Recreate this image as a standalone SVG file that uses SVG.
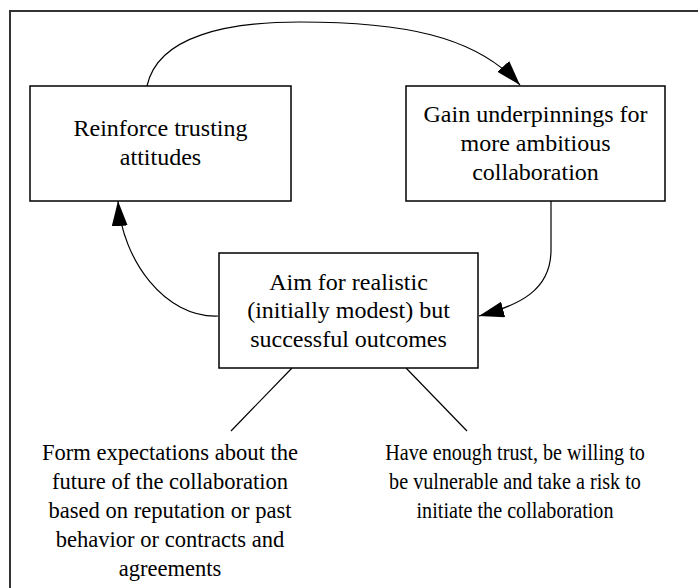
<svg xmlns="http://www.w3.org/2000/svg" width="698" height="588" viewBox="0 0 698 588">
  <style>
    .box { fill: #ffffff; stroke: #000000; stroke-width: 1.5; }
    .label { font-family: 'Liberation Serif', 'DejaVu Serif', serif; font-size: 24px; fill: #000000; text-anchor: middle; }
    .note { font-family: 'Liberation Serif', 'DejaVu Serif', serif; font-size: 24px; fill: #000000; text-anchor: middle; }
    .link { fill: none; stroke: #000000; stroke-width: 1.2; }
    .frame { fill: none; stroke: #333333; stroke-width: 2; }
  </style>
  <defs>
    <marker id="arrow" markerUnits="userSpaceOnUse" markerWidth="26" markerHeight="18" refX="25" refY="8" orient="auto">
      <path d="M0,0 L25,8 L0,16 Z" fill="#000000"/>
    </marker>
  </defs>

  <rect width="698" height="588" fill="#ffffff"/>
  <!-- outer frame, open to the right and bottom -->
  <path class="frame" d="M10,600 V11 H700"/>

  <g id="connectors">
    <path class="link" d="M147,86 C158,35 230,22 300,22 C400,22 475,35 520,85" marker-end="url(#arrow)"/>
    <path class="link" d="M551,201 L551,250 C551,290 520,305 479,316" marker-end="url(#arrow)"/>
    <path class="link" d="M218,316 C165,318 122,260 118,201" marker-end="url(#arrow)"/>
    <path class="link" d="M292,368 L231,431"/>
    <path class="link" d="M406,368 L467,431"/>
  </g>

  <g id="reinforce">
    <rect class="box" x="30" y="86" width="261" height="115"/>
    <text class="label" x="160.5" y="136">Reinforce trusting</text>
    <text class="label" x="160.5" y="165">attitudes</text>
  </g>

  <g id="underpinnings">
    <rect class="box" x="406" y="86" width="259" height="115"/>
    <text class="label" x="535.5" y="122">Gain underpinnings for</text>
    <text class="label" x="535.5" y="151">more ambitious</text>
    <text class="label" x="535.5" y="180">collaboration</text>
  </g>

  <g id="outcomes">
    <rect class="box" x="219" y="253" width="259" height="115"/>
    <text class="label" x="348.5" y="290">Aim for realistic</text>
    <text class="label" x="348.5" y="318">(initially modest) but</text>
    <text class="label" x="348.5" y="347">successful outcomes</text>
  </g>

  <g id="expectations" transform="translate(170,0) scale(0.94,1)">
    <text class="note" x="0" y="460">Form expectations about the</text>
    <text class="note" x="0" y="489">future of the collaboration</text>
    <text class="note" x="0" y="518">based on reputation or past</text>
    <text class="note" x="0" y="547">behavior or contracts and</text>
    <text class="note" x="0" y="576">agreements</text>
  </g>

  <g id="trust" transform="translate(515,0) scale(0.84,1)">
    <text class="note" x="0" y="460">Have enough trust, be willing to</text>
    <text class="note" x="0" y="489">be vulnerable and take a risk to</text>
    <text class="note" x="0" y="518">initiate the collaboration</text>
  </g>
</svg>
